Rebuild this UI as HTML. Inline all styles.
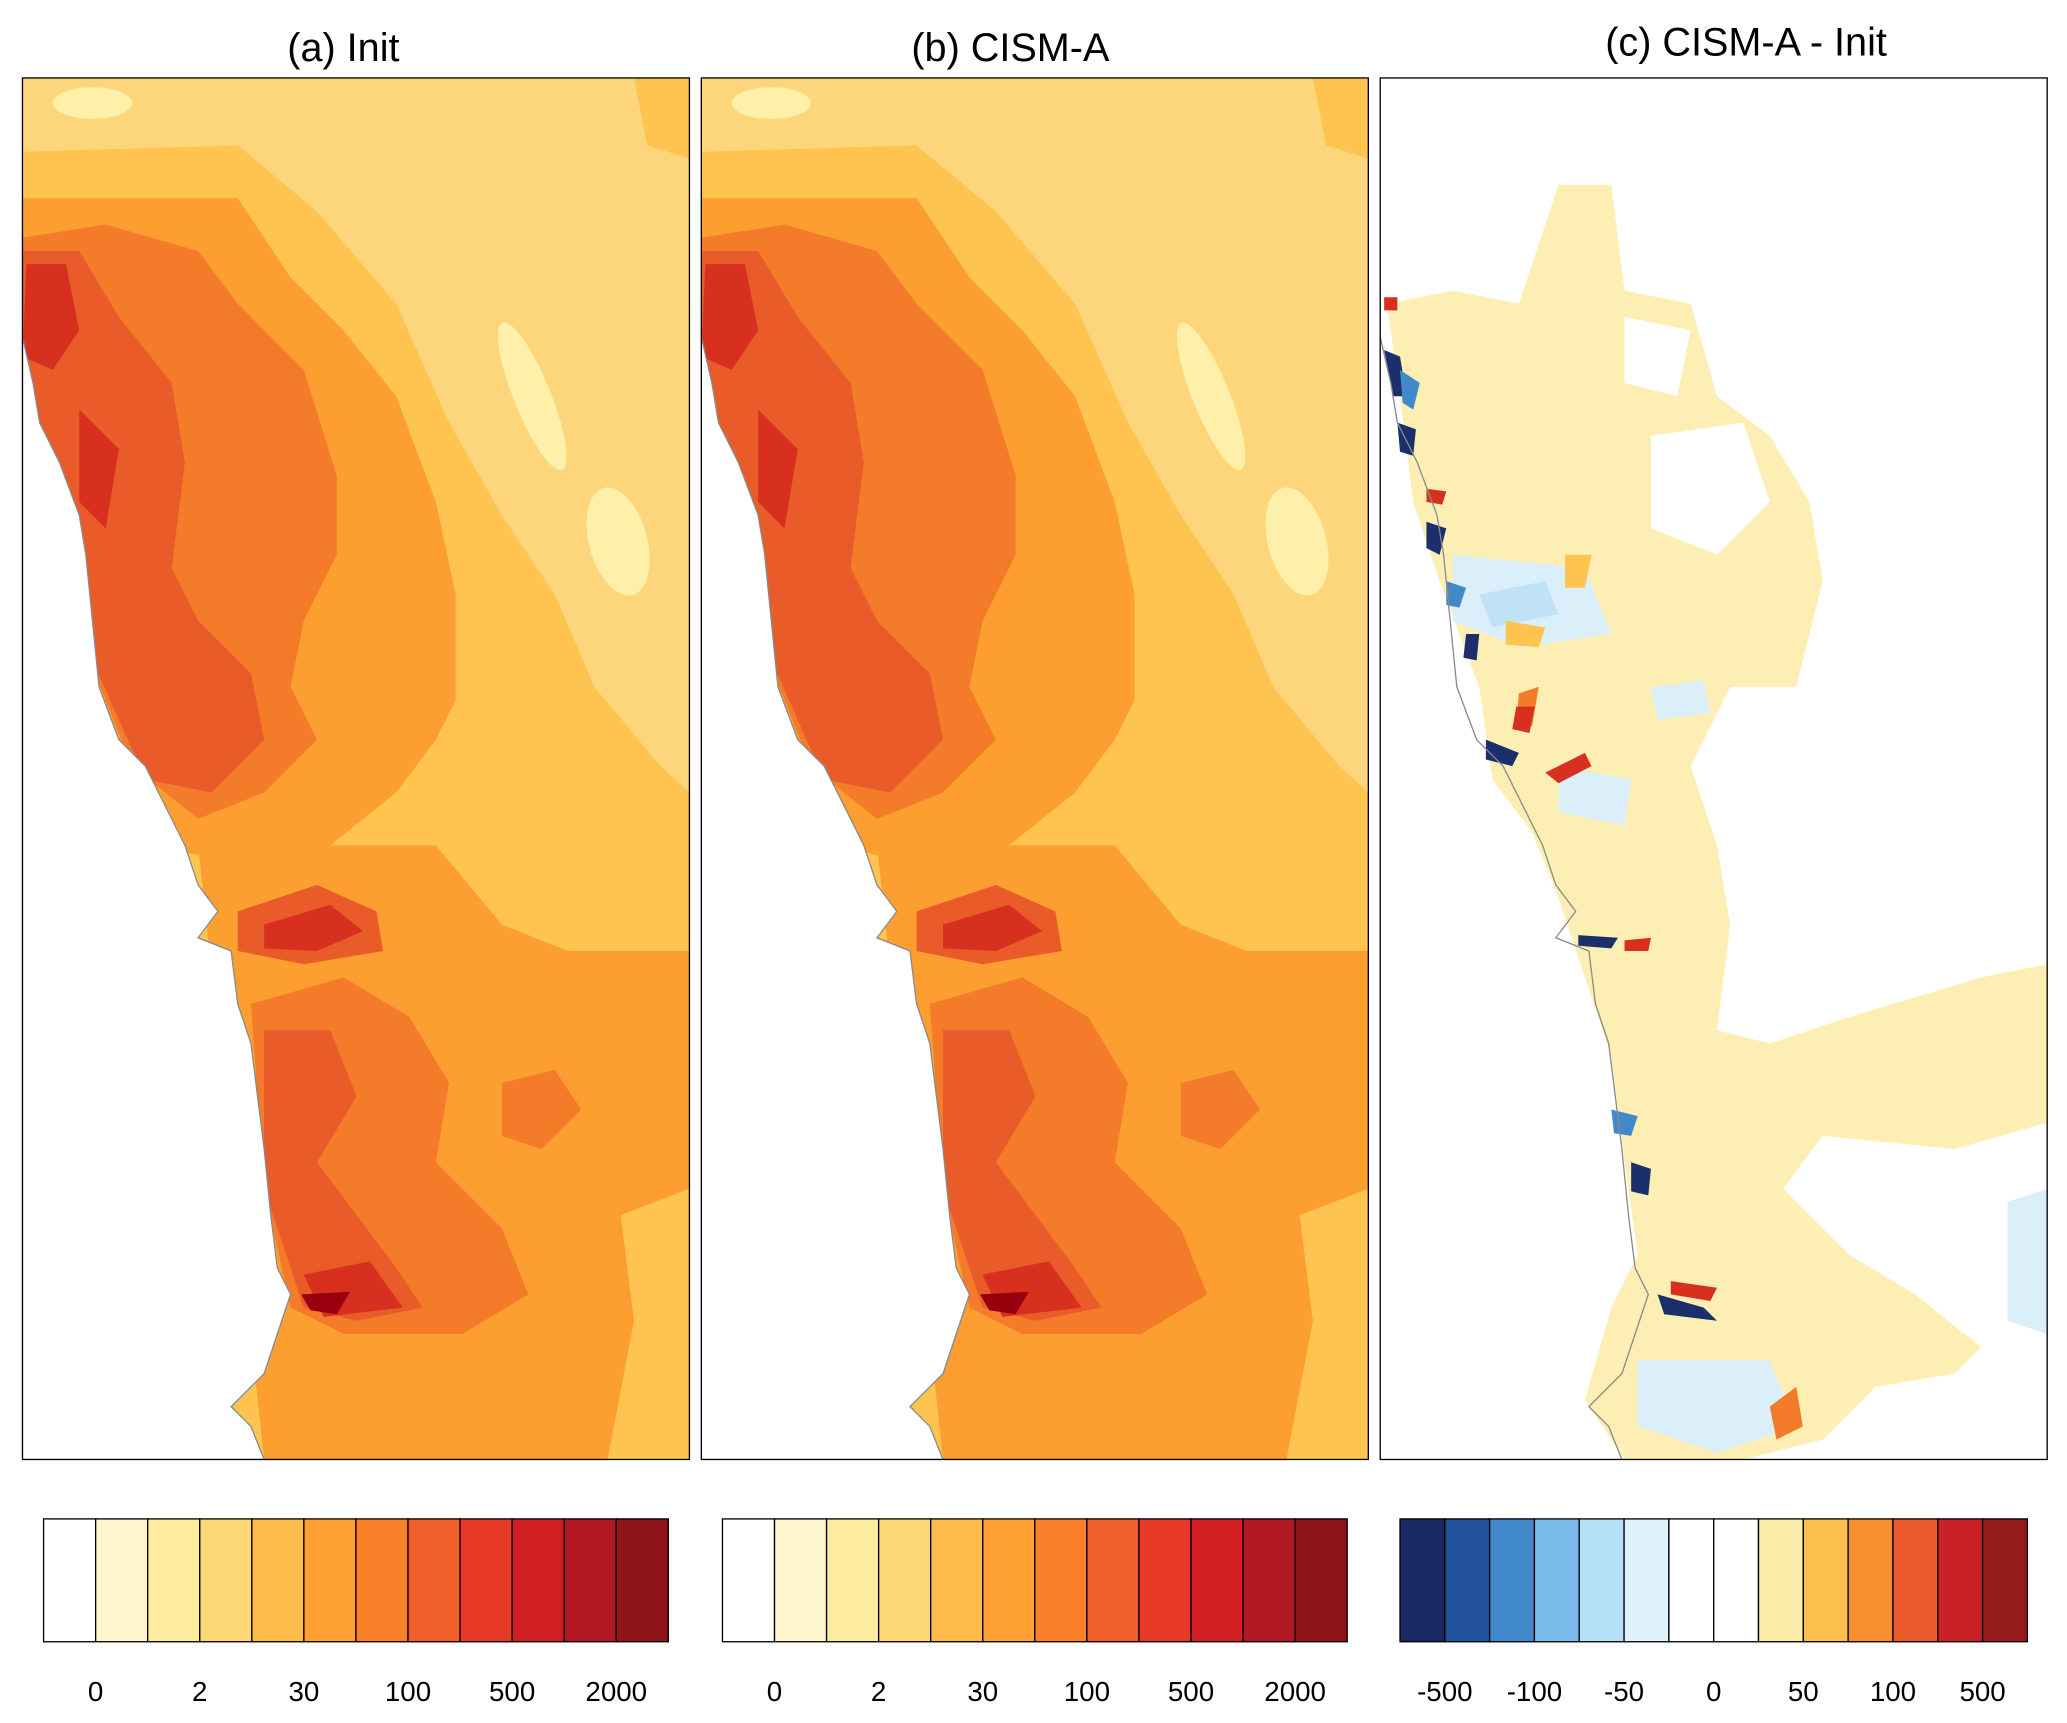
<!DOCTYPE html>
<html><head><meta charset="utf-8">
<style>
html,body{margin:0;padding:0;background:#fff;}
svg{display:block;font-family:"Liberation Sans",Arial,sans-serif;}
</style></head>
<body>
<svg id="fig" width="2067" height="1723" viewBox="0 0 1565 1304.5" xmlns="http://www.w3.org/2000/svg">
<defs>
  <clipPath id="clipA"><rect x="17" y="59" width="505" height="1046"/></clipPath>
  <clipPath id="clipC"><rect x="1045" y="59" width="505" height="1046"/></clipPath>
  <g id="mapAB">
    <rect x="17" y="59" width="505" height="1046" fill="#fdd57a"/>
    <ellipse cx="70" cy="78" rx="30" ry="12" fill="#fef0a8"/>
    <polygon fill="#fec44f" points="17,115 180,110 240,160 300,230 340,320 380,390 420,450 450,520 500,580 522,600 522,1105 17,1105"/>
    <polygon fill="#fec44f" points="480,59 522,59 522,120 490,110"/>
    <polygon fill="#fd9f30" points="17,150 180,150 220,210 260,250 300,300 330,380 345,450 345,530 330,560 300,600 250,640 200,660 120,640 17,600"/>
    <polygon fill="#fd9f30" points="150,640 330,640 380,700 430,720 522,720 522,900 470,920 480,1000 460,1105 200,1105"/>
    <polygon fill="#f47b2a" points="17,180 80,170 150,190 180,230 230,280 255,360 255,420 230,470 220,520 240,560 200,600 150,620 100,580 60,480 17,400"/>
    <polygon fill="#f47b2a" points="190,760 260,740 310,770 340,820 330,880 380,930 400,980 350,1010 260,1010 220,990 200,900"/>
    <polygon fill="#f47b2a" points="380,820 420,810 440,840 410,870 380,860"/>
    <polygon fill="#e95b28" points="17,190 60,190 90,240 130,290 140,350 130,430 150,470 190,510 200,560 160,600 110,590 70,500 40,390 17,300"/>
    <polygon fill="#e95b28" points="200,780 250,780 270,830 240,880 300,960 320,990 270,1000 230,990 200,900"/>
    <polygon fill="#e95b28" points="180,690 240,670 285,690 290,720 230,730 180,720"/>
    <polygon fill="#d7301f" points="20,200 50,200 60,250 40,280 17,270"/>
    <polygon fill="#d7301f" points="60,310 90,340 80,400 60,380"/>
    <polygon fill="#d7301f" points="200,700 250,685 275,705 240,720 200,718"/>
    <polygon fill="#d7301f" points="230,965 280,955 305,990 245,997"/>
    <polygon fill="#99000d" points="228,980 265,978 255,995 235,992"/>
    <ellipse cx="403" cy="300" rx="14" ry="60" transform="rotate(-22 403 300)" fill="#fef0a8"/>
    <ellipse cx="468" cy="410" rx="22" ry="42" transform="rotate(-15 468 410)" fill="#fef0a8"/>
    <polygon fill="#fff" stroke="#8a8a8a" stroke-width="1" points="17,255 25,290 30,320 45,350 60,390 65,420 70,470 75,520 90,560 110,580 125,610 140,640 150,670 165,690 150,710 175,720 180,760 190,790 195,830 200,870 205,920 210,960 220,980 210,1010 200,1040 175,1065 190,1080 200,1105 17,1105"/>
  </g>
</defs>

<text x="260" y="46" font-size="30" text-anchor="middle">(a) Init</text>
<text x="765" y="46" font-size="30" text-anchor="middle">(b) CISM-A</text>
<text x="1322" y="42" font-size="30" text-anchor="middle">(c) CISM-A - Init</text>

<g clip-path="url(#clipA)"><use href="#mapAB"/></g>
<g transform="translate(514,0)"><g clip-path="url(#clipA)"><use href="#mapAB"/></g></g>

<g clip-path="url(#clipC)">
  <rect x="1045" y="59" width="505" height="1046" fill="#fff"/>
  <polygon fill="#fdefb3" points="1180,140 1220,140 1230,220 1280,230 1300,300 1340,330 1370,380 1380,440 1360,520 1310,520 1280,580 1300,640 1310,700 1300,780 1340,790 1400,770 1500,740 1550,730 1550,850 1480,870 1380,860 1350,900 1400,950 1450,980 1500,1020 1480,1040 1420,1050 1380,1090 1320,1105 1230,1105 1200,1060 1220,990 1240,950 1230,880 1220,800 1200,740 1180,680 1160,630 1130,590 1120,520 1090,440 1070,380 1060,300 1050,230 1100,220 1150,230"/>
  <polygon fill="#fff" points="1250,330 1320,320 1340,380 1300,420 1250,400"/>
  <polygon fill="#fff" points="1230,240 1280,250 1270,300 1230,290"/>
  <polygon fill="#dbeffa" points="1100,420 1200,430 1220,480 1150,490 1100,470"/>
  <polygon fill="#bfe2f7" points="1120,450 1170,440 1180,465 1130,475"/>
  <polygon fill="#dbeffa" points="1180,580 1235,590 1230,625 1180,615"/>
  <polygon fill="#dbeffa" points="1240,1030 1340,1030 1360,1080 1300,1100 1240,1080"/>
  <polygon fill="#dbeffa" points="1520,910 1550,900 1550,1010 1520,1000"/>
  <polygon fill="#dbeffa" points="1250,520 1290,515 1295,540 1255,545"/>
  <polygon fill="#fec44f" points="1140,470 1170,475 1165,490 1140,488"/>
  <polygon fill="#fec44f" points="1185,420 1205,420 1200,445 1185,445"/>
  <polygon fill="#f47b2a" points="1150,525 1165,520 1160,550 1148,548"/>
  <polygon fill="#d7301f" points="1148,535 1162,535 1158,555 1145,552"/>
  <polygon fill="#d7301f" points="1170,585 1200,570 1205,580 1180,593"/>
  <polygon fill="#f47b2a" points="1340,1065 1360,1050 1365,1080 1345,1090"/>
  <g fill="#1a2f6b">
    <polygon points="1048,265 1060,270 1065,300 1055,300"/>
    <polygon points="1058,320 1072,325 1070,345 1060,342"/>
    <polygon points="1080,395 1095,400 1090,420 1080,415"/>
    <polygon points="1110,480 1120,480 1118,500 1108,498"/>
    <polygon points="1125,560 1150,570 1145,580 1125,575"/>
    <polygon points="1195,708 1225,710 1220,718 1195,716"/>
    <polygon points="1235,880 1250,885 1248,905 1235,902"/>
    <polygon points="1255,980 1290,990 1300,1000 1260,995"/>
  </g>
  <g fill="#4289cc">
    <polygon points="1060,280 1075,290 1070,310 1062,305"/>
    <polygon points="1095,440 1110,445 1105,460 1095,458"/>
    <polygon points="1220,840 1240,845 1235,860 1222,858"/>
  </g>
  <g fill="#d7301f">
    <polygon points="1048,225 1058,225 1058,235 1048,235"/>
    <polygon points="1080,370 1095,372 1092,382 1080,380"/>
    <polygon points="1230,712 1250,710 1248,720 1230,720"/>
    <polygon points="1265,970 1300,975 1295,985 1265,980"/>
  </g>
  <polyline fill="none" stroke="#8a8a8a" stroke-width="1" points="1045,255 1053,290 1058,320 1073,350 1088,390 1093,420 1098,470 1103,520 1118,560 1138,580 1153,610 1168,640 1178,670 1193,690 1178,710 1203,720 1208,760 1218,790 1223,830 1228,870 1233,920 1238,960 1248,980 1238,1010 1228,1040 1203,1065 1218,1080 1228,1105"/>
</g>

<g fill="none" stroke="#000" stroke-width="1">
  <rect x="17" y="59" width="505" height="1046"/>
  <rect x="531" y="59" width="505" height="1046"/>
  <rect x="1045" y="59" width="505" height="1046"/>
</g>

<g id="cbars"></g>
</svg>
<script>
var seqColors = ["#ffffff","#fff5cc","#feeda0","#fed776","#feba4a","#fd9f32","#f98029","#f05f2a","#e63a27","#d21f23","#b21823","#8f1518"];
var seqLabels = ["0","2","30","100","500","2000"];
var divColors = ["#172a63","#22519b","#4289cc","#7abbec","#b5e1f8","#e0f3fb","#ffffff","#ffffff","#fbeaa8","#fdc04f","#f88f2e","#ea5a2b","#cb2026","#951a1c"];
var divLabels = ["-500","-100","-50","0","50","100","500"];
var NS = "http://www.w3.org/2000/svg";
var root = document.getElementById("cbars");
function drawBar(x0, x1, colors, labels, name) {
  var y0 = 1150, h = 93, w = (x1 - x0) / colors.length;
  var g = document.createElementNS(NS, "g");
  
  
  colors.forEach(function (c, i) {
    var r = document.createElementNS(NS, "rect");
    r.setAttribute("x", x0 + i * w); r.setAttribute("y", y0);
    r.setAttribute("width", w); r.setAttribute("height", h);
    r.setAttribute("fill", c); r.setAttribute("stroke", "#000"); r.setAttribute("stroke-width", "1");
    
    
    g.appendChild(r);
  });
  labels.forEach(function (l, i) {
    var t = document.createElementNS(NS, "text");
    t.setAttribute("x", x0 + (2 * i + 1) * w); t.setAttribute("y", 1288);
    t.setAttribute("font-size", "21"); t.setAttribute("text-anchor", "middle");
    t.textContent = l;
    
    
    g.appendChild(t);
  });
  root.appendChild(g);
}
drawBar(33, 506, seqColors, seqLabels, "colorbar-a");
drawBar(547, 1020, seqColors, seqLabels, "colorbar-b");
drawBar(1060, 1535, divColors, divLabels, "colorbar-c");
</script>
</body></html>
